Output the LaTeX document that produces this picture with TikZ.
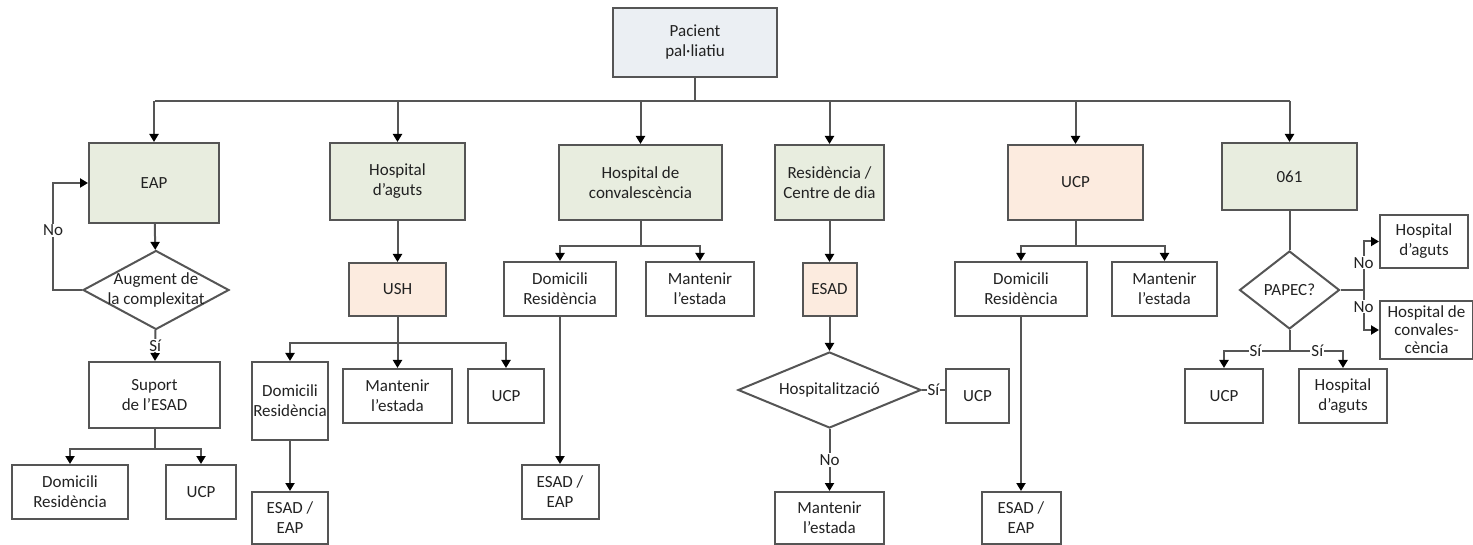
\documentclass[tikz,border=0pt]{standalone}
\usepackage{fontspec}
\setmainfont{Carlito}
\usepackage{tikz}
\usetikzlibrary{arrows.meta, shapes.geometric}
\definecolor{linegray}{HTML}{555555}
\definecolor{textgray}{HTML}{222222}
\definecolor{fillblue}{HTML}{EBEFF3}
\definecolor{fillgreen}{HTML}{E8EDDF}
\definecolor{fillpeach}{HTML}{FCEBDF}
\tikzset{
  box/.style={draw=linegray, line width=2pt, rectangle, align=center, inner sep=1pt,
    text=textgray, font=\fontsize{17}{20}\selectfont},
  decision/.style={draw=linegray, line width=2pt, diamond, inner sep=0pt},
  dtext/.style={align=center, text=textgray, font=\fontsize{17}{20}\selectfont},
  labeltext/.style={fill=white, inner sep=1pt, text=textgray, font=\fontsize{17}{20}\selectfont},
  line/.style={draw=linegray, line width=2pt},
  arrow/.style={line, -{Triangle[width=9pt,length=8pt,fill=black,color=black]}}
}

\begin{document}
\begin{tikzpicture}[x=1pt, y=-1pt]
            \useasboundingbox (0,0) rectangle (1473,545);
            % Nodes
            \node[box, fill=fillblue, minimum width=164, minimum height=69] (pacient) at (695,42.5) {Pacient\\pal·liatiu};
            % EAP
            \node[box, fill=fillgreen, minimum width=130, minimum height=80] (eap) at (154,183) {EAP};
            \node[decision, minimum width=146, minimum height=79,
              label={[dtext]center:Augment de\\la complexitat}] (augment) at (156,290) {};
            \node[box, minimum width=131, minimum height=66] (suport) at (154.5,395) {Suport\\de l’ESAD};
            \node[box, minimum width=116, minimum height=54] (dom1) at (70,492) {Domicili\\Residència};
            \node[box, minimum width=70, minimum height=54] (ucp1) at (201,492) {UCP};
            % Hospital d'aguts
            \node[box, fill=fillgreen, minimum width=135, minimum height=77] (hosp) at (397.5,181.5) {Hospital\\d’aguts};
            \node[box, fill=fillpeach, minimum width=97, minimum height=53] (ush) at (397.5,289.5) {USH};
            \node[box, minimum width=76, minimum height=78] (dom2) at (290,401) {Domicili\\Residència};
            \node[box, minimum width=109, minimum height=54] (man2) at (397.5,396) {Mantenir\\l’estada};
            \node[box, minimum width=76, minimum height=54] (ucp2) at (506,396) {UCP};
            \node[box, minimum width=76, minimum height=52] (esad2) at (290,518) {ESAD /\\EAP};
            % Hospital de convalescencia
            \node[box, fill=fillgreen, minimum width=163, minimum height=75] (hconv) at (640.5,182.5) {Hospital de\\convalescència};
            \node[box, minimum width=112, minimum height=54] (dom3) at (560,289) {Domicili\\Residència};
            \node[box, minimum width=108, minimum height=54] (man3) at (700,289) {Mantenir\\l’estada};
            \node[box, minimum width=77, minimum height=54] (esad3) at (560,492) {ESAD /\\EAP};
            % Residencia / Centre de dia
            \node[box, fill=fillgreen, minimum width=109, minimum height=75] (resid) at (829.5,182.5) {Residència /\\Centre de dia};
            \node[box, fill=fillpeach, minimum width=54, minimum height=53] (esad4) at (829.5,289.5) {ESAD};
            \node[decision, minimum width=183, minimum height=76,
              label={[dtext]center:Hospitalització}] (hospit) at (829.5,390) {};
            \node[box, minimum width=63, minimum height=54] (ucp4) at (977.5,396) {UCP};
            \node[box, minimum width=109, minimum height=52] (man4) at (829.5,518) {Mantenir\\l’estada};
            % UCP
            \node[box, fill=fillpeach, minimum width=135, minimum height=75] (ucp5) at (1075.5,182.5) {UCP};
            \node[box, minimum width=132, minimum height=54] (dom5) at (1021,289) {Domicili\\Residència};
            \node[box, minimum width=105, minimum height=54] (man5) at (1164.5,289) {Mantenir\\l’estada};
            \node[box, minimum width=79, minimum height=52] (esad5) at (1021,518) {ESAD /\\EAP};
            % 061
            \node[box, fill=fillgreen, minimum width=135, minimum height=67] (n061) at (1289.5,176.5) {061};
            \node[decision, minimum width=100, minimum height=78,
              label={[dtext]center:PAPEC?}] (papec) at (1289.5,290) {};
            \node[box, minimum width=88, minimum height=53] (hagut6) at (1424,241.5) {Hospital\\d’aguts};
            \node[box, minimum width=93, minimum height=58, font=\fontsize{17}{18}\selectfont] (hconv6) at (1426.5,330) {Hospital de\\convales-\\cència};
            \node[box, minimum width=78, minimum height=54] (ucp6) at (1224,396) {UCP};
            \node[box, minimum width=88, minimum height=54] (hagut7) at (1343,396) {Hospital\\d’aguts};
            % Arrows
            \coordinate (busL) at (155,101);
            \coordinate (busR) at (1289.5,101);
            \draw[line] (pacient) -- (pacient |- busL);
            \draw[line] (busL) -- (busR);
            \foreach \n in {eap,hosp,hconv,resid,ucp5,n061}
              \draw[arrow] (\n |- busL) -- (\n);
            % EAP
            \draw[arrow] (eap) -- (augment);
            \draw[arrow] (augment.west) -- ++(-29,0) |- node[labeltext, pos=0.28] {No} (eap.west);
            \draw[arrow] (augment) -- node[labeltext] {Sí} (suport);
            \draw[arrow] (suport.south) -- ++(0,20) -| (dom1);
            \draw[arrow] (suport.south) -- ++(0,20) -| (ucp1);
            % Hospital d'aguts
            \draw[arrow] (hosp) -- (ush);
            \draw[arrow] (ush.south) -- ++(0,26) -| (dom2);
            \draw[arrow] (ush) -- (man2);
            \draw[arrow] (ush.south) -- ++(0,26) -| (ucp2);
            \draw[arrow] (dom2) -- (esad2);
            % Hospital de convalescencia
            \draw[arrow] (hconv.south) -- ++(0,25) -| (dom3);
            \draw[arrow] (hconv.south) -- ++(0,25) -| (man3);
            \draw[arrow] (dom3) -- (esad3);
            % Residencia / Centre de dia
            \draw[arrow] (resid) -- (esad4);
            \draw[arrow] (esad4) -- (hospit);
            \draw[line] (hospit.east) -- node[labeltext] {Sí} (hospit.east -| ucp4.west);
            \draw[arrow] (hospit) -- node[labeltext] {No} (man4);
            % UCP
            \draw[arrow] (ucp5.south) -- ++(0,25) -| (dom5);
            \draw[arrow] (ucp5.south) -- ++(0,25) -| (man5);
            \draw[arrow] (dom5) -- (esad5);
            % 061
            \draw[line] (n061) -- (papec);
            \draw[line] (papec.east) -- ++(23,0) coordinate (papecR);
            \draw[arrow] (papecR) |- node[labeltext, pos=0.28] {No} (hagut6);
            \draw[arrow] (papecR) |- node[labeltext, pos=0.21] {No} (hconv6);
            \draw[line] (papec.south) -- ++(0,21) coordinate (papecB);
            \draw[arrow] (papecB) -| node[labeltext, pos=0.26] {Sí} (ucp6);
            \draw[arrow] (papecB) -| node[labeltext, pos=0.26] {Sí} (hagut7);
        \end{tikzpicture}
\end{document}
